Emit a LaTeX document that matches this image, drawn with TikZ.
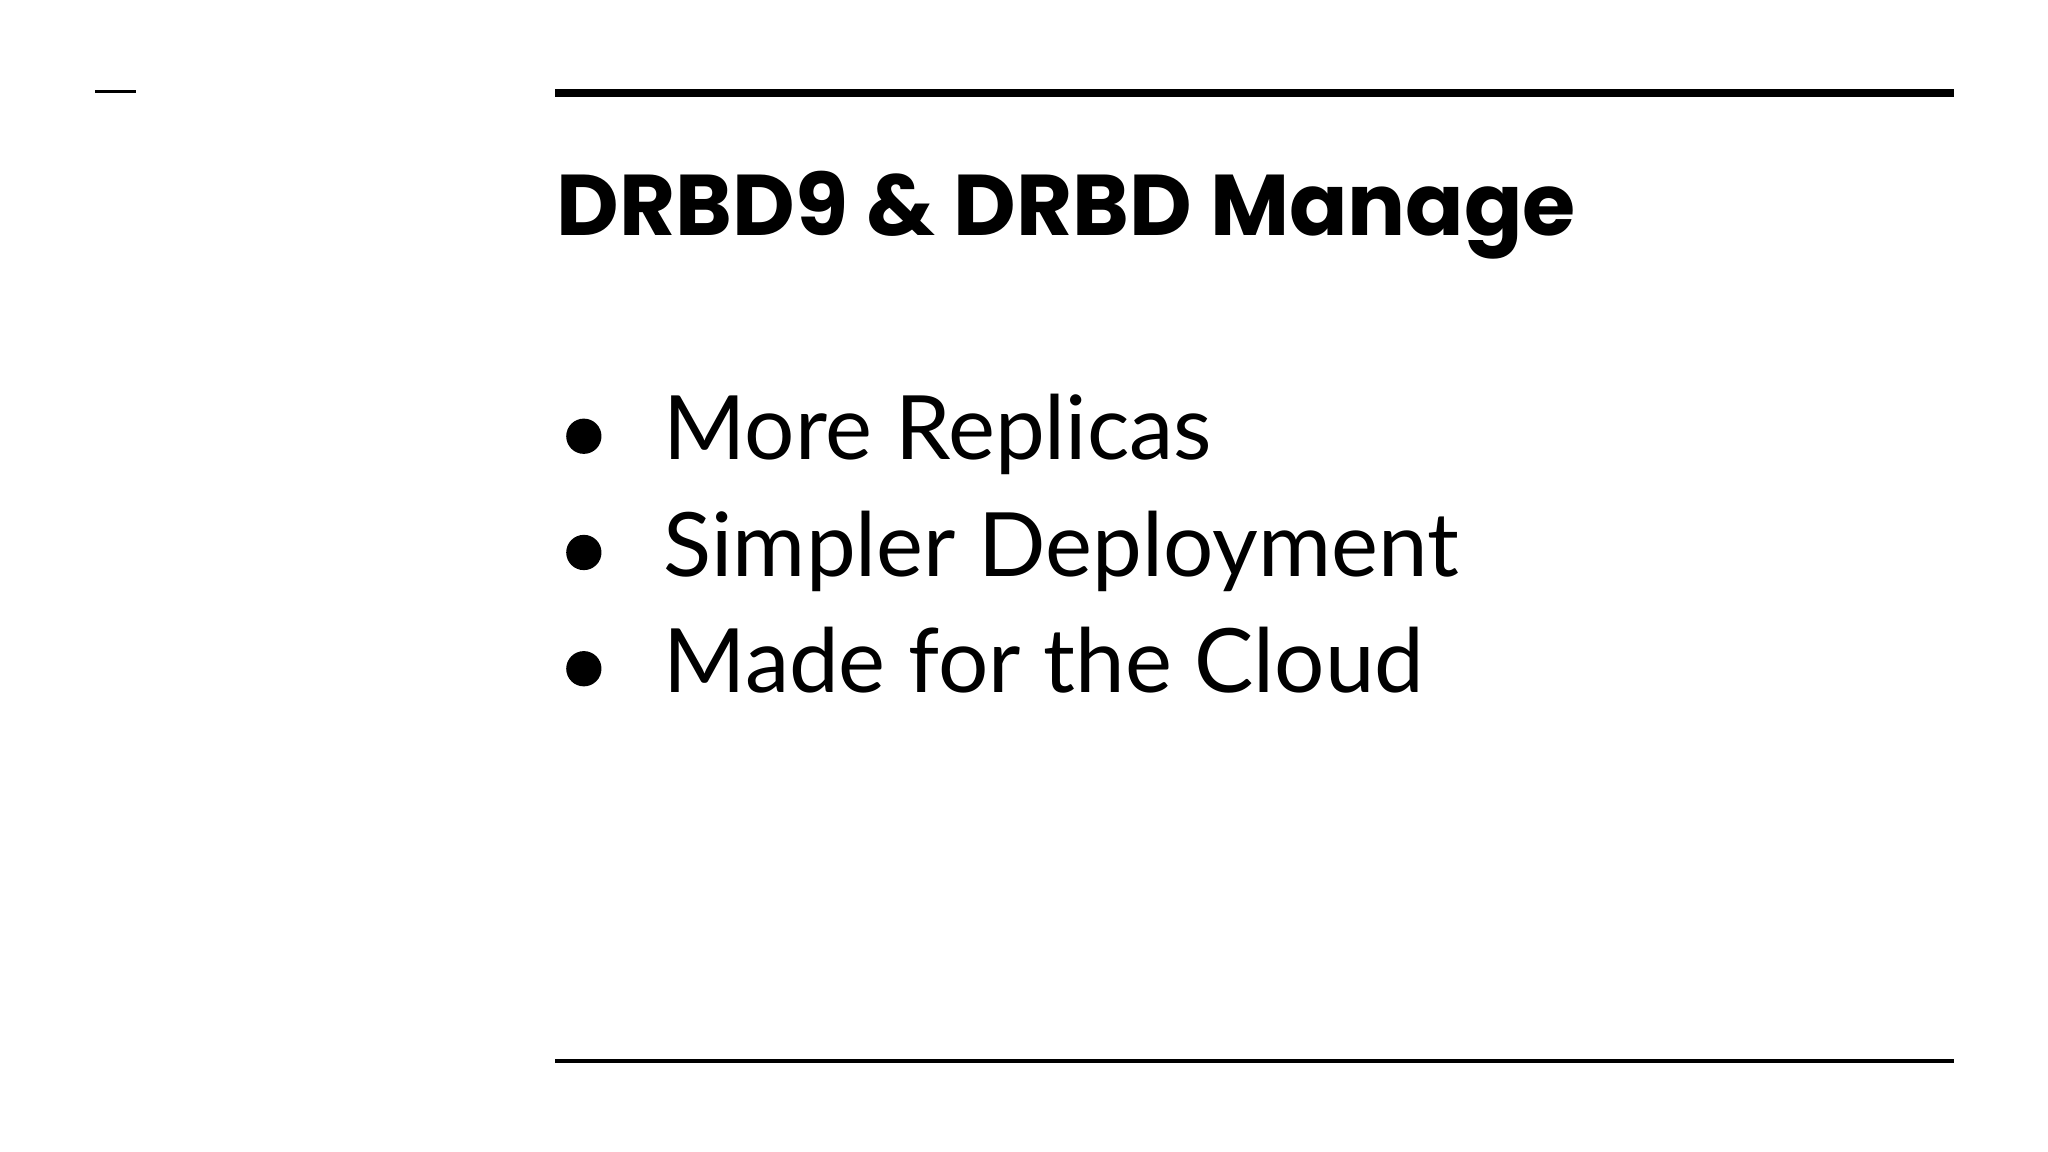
\documentclass[tikz,border=0pt]{standalone}
\usepackage{fontspec}
\setmainfont{Lato}
\newfontfamily\titlefont{Poppins}
\begin{document}
\begin{tikzpicture}[x=1pt,y=-1pt,
  bul/.style={anchor=base west,inner sep=0pt,font=\fontsize{68}{80}\selectfont},
  dot/.style={fill=black,circle,minimum size=27pt,inner sep=0pt}]
\useasboundingbox (0,0) rectangle (1568,882);
\coordinate (s1) at (73,70); \coordinate (s2) at (104,70);
\draw[line width=2.5pt] (s1) -- (s2);
\coordinate (t1) at (425,71); \coordinate (t2) at (1496,71);
\draw[line width=6pt] (t1) -- (t2);
\coordinate (b1) at (425,812); \coordinate (b2) at (1496,812);
\draw[line width=3pt] (b1) -- (b2);
\node[anchor=base west,inner sep=0pt,font=\titlefont\bfseries\fontsize{66}{80}\selectfont] (title) at (426,180) {DRBD9 \& DRBD Manage};
\node[bul] (i1) at (508,352) {More Replicas};
\node[bul] (i2) at (508,441) {Simpler Deployment};
\node[bul] (i3) at (508,530) {Made for the Cloud};
\node[dot] (d1) at (447,334) {};
\node[dot] (d2) at (447,423) {};
\node[dot] (d3) at (447,512) {};
\end{tikzpicture}
\end{document}
